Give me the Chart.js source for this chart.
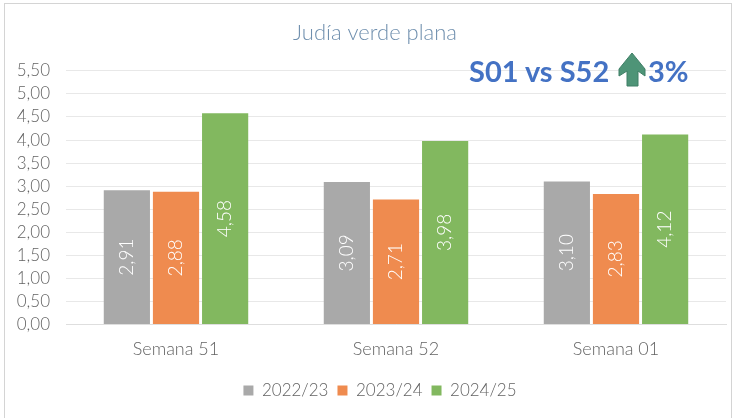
<!DOCTYPE html>
<html><head><meta charset="utf-8">
<style>
html,body{margin:0;padding:0;background:#fff;overflow:hidden}
#wrap{position:relative;width:743px;height:418px}
#frame{position:absolute;left:4px;top:3px;width:728px;height:420px;border:1px solid #d4d4d4;box-sizing:border-box}
#note{position:absolute;left:469px;top:52px;font:700 29px "Lato",sans-serif;color:#4472c4;white-space:nowrap;line-height:38px}
#note svg{position:absolute;left:149px;top:0}
#note .p{position:absolute;left:179px;top:0}
canvas{position:absolute;left:0;top:0}
</style></head><body>
<div id="wrap"><div id="frame"></div><canvas id="c" width="743" height="418"></canvas>
<div id="note">S01 vs S52<svg width="30" height="36" viewBox="0 0 30 36"><path d="M14 1 L27 17 L27 24 L20 19 L20 34 L9 34 L9 19 L1 24 L1 17 Z" fill="#4e9477" stroke="#3f7f66" stroke-width="1"/></svg><span class="p">3%</span></div></div>
<script src="https://cdn.jsdelivr.net/npm/chart.js@4"></script>
<script>
const categories=["Semana 51","Semana 52","Semana 01"];
const seasons=["2022/23","2023/24","2024/25"];
const values2223=[2.91,3.09,3.10];
const values2324=[2.88,2.71,2.83];
const values2425=[4.58,3.98,4.12];
const colours=["#a9a9a9","#ef8b4f","#82b85f"];
const fmt=v=>v.toFixed(2).replace(".",",");
const font='"Lato",sans-serif';
const labels={id:"labels",
afterLayout(ch){ch.titleBlock.left+=7;ch.titleBlock.right+=7;const l=ch.legend;l.left+=12;l.right+=12;l.top+=7;l.bottom+=7;},
afterDatasetsDraw(ch){const g=ch.ctx;ch.data.datasets.forEach((d,i)=>{ch.getDatasetMeta(i).data.forEach((b,j)=>{g.save();g.translate(b.x,(b.y+b.base)/2);g.rotate(-Math.PI/2);g.fillStyle="#fff";g.font="300 19px "+font;g.textAlign="center";g.textBaseline="middle";g.fillText(fmt(d.data[j]),0,0);g.restore();});});}};
new Chart(document.getElementById("c"),{type:"bar",plugins:[labels],
data:{labels:categories,datasets:[values2223,values2324,values2425].map((v,i)=>({label:seasons[i],data:v,backgroundColor:colours[i],categoryPercentage:.67,barPercentage:.94}))},
options:{responsive:false,animation:false,
layout:{padding:{left:10,right:17,top:0,bottom:16}},
plugins:{tooltip:{enabled:false},
title:{display:true,text:"Judía verde plana",color:"#6f8fae",font:{family:font,size:22,weight:"300"},padding:{top:20,bottom:24.5}},
legend:{position:"bottom",labels:{boxWidth:10,boxHeight:10,padding:9,color:"#636363",font:{family:font,size:17,weight:"300"}}}},
scales:{x:{grid:{display:false},border:{color:"#dedede"},ticks:{color:"#636363",font:{family:font,size:18,weight:"300"},padding:6}},
y:{min:0,max:5.5,afterFit(s){s.width=56;},ticks:{autoSkip:false,stepSize:.5,color:"#636363",font:{family:font,size:17,weight:"300"},callback:v=>fmt(v),padding:16},grid:{color:"#e8e8e8",drawTicks:false},border:{display:false}}}}});
</script></body></html>
